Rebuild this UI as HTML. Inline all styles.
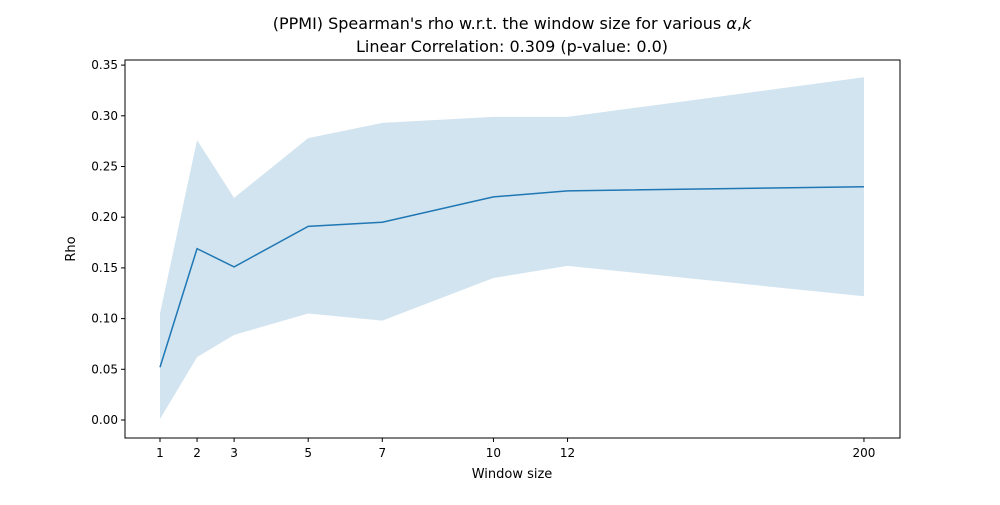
<!DOCTYPE html>
<html><head><meta charset="utf-8"><style>
body{margin:0;background:#fff;font-family:"Liberation Sans","DejaVu Sans",sans-serif}
svg text{font-family:"DejaVu Sans","Liberation Sans",sans-serif;fill:#000}
</style></head><body>
<svg id="chart" width="1000" height="500">
<text x="512" y="29" font-size="16" text-anchor="middle">(PPMI) Spearman's rho w.r.t. the window size for various <tspan font-style="italic">α</tspan>,<tspan font-style="italic">k</tspan></text>
<text x="512" y="52" font-size="16" text-anchor="middle">Linear Correlation: 0.309 (p-value: 0.0)</text>
<g id="plot"></g>
<rect x="125" y="60" width="775" height="378" fill="none" stroke="#000" stroke-width="1"/>
<text x="512" y="478" font-size="13" text-anchor="middle">Window size</text>
<text x="75" y="249" font-size="13" text-anchor="middle" transform="rotate(-90 75 249)">Rho</text>
</svg>
<script>
const xLabels=["1","2","3","5","7","10","12","200"];
const xPos=[1,2,3,5,7,10,12,20];
const meanVals=[0.052,0.169,0.151,0.191,0.195,0.220,0.226,0.230];
const upperVals=[0.105,0.276,0.219,0.278,0.293,0.299,0.299,0.338];
const lowerVals=[0.001,0.062,0.084,0.105,0.098,0.140,0.152,0.122];
const yTicks=[0,0.05,0.10,0.15,0.20,0.25,0.30,0.35];
const NS="http://www.w3.org/2000/svg";
const g=document.getElementById('plot');
const xs=v=>160+(v-1)*37.05;
const ys=v=>420-v*1014;
function mk(t,a){const e=document.createElementNS(NS,t);for(const k in a)e.setAttribute(k,a[k]);g.appendChild(e);return e;}
let d=xPos.map((x,i)=>(i?'L':'M')+xs(x)+','+ys(upperVals[i])).join('');
for(let i=xPos.length-1;i>=0;i--)d+='L'+xs(xPos[i])+','+ys(lowerVals[i]);
const band=mk('path',{d:d+'Z',fill:'#1f77b4','fill-opacity':0.2});


const line=mk('path',{d:xPos.map((x,i)=>(i?'L':'M')+xs(x)+','+ys(meanVals[i])).join(''),fill:'none',stroke:'#1f77b4','stroke-width':1.5});


xPos.forEach((x,i)=>{
 const t=mk('line',{x1:xs(x),x2:xs(x),y1:438,y2:442,stroke:'#000'});
 
 
 const l=mk('text',{x:xs(x),y:457,'font-size':12,'text-anchor':'middle'});l.textContent=xLabels[i];
 
 
});
yTicks.forEach(v=>{
 const t=mk('line',{x1:121,x2:125,y1:ys(v),y2:ys(v),stroke:'#000'});
 
 
 const l=mk('text',{x:118,y:ys(v)+4,'font-size':12,'text-anchor':'end'});l.textContent=v.toFixed(2);
 
 
});
</script>
</body></html>
